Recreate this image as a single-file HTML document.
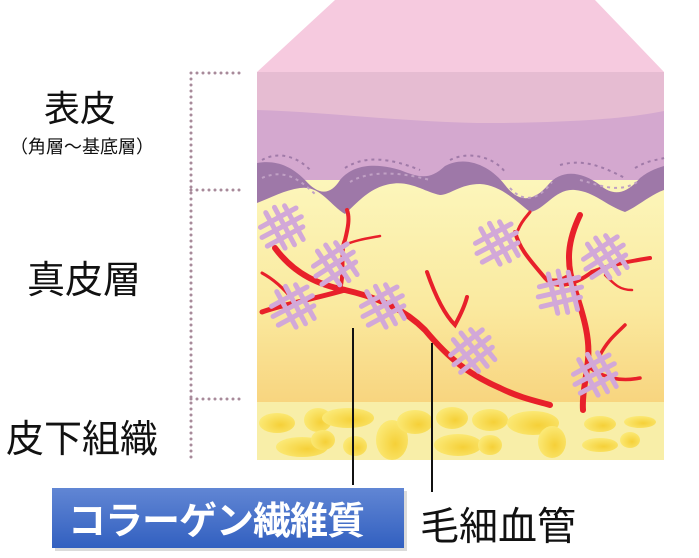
<!DOCTYPE html>
<html><head><meta charset="utf-8"><style>
body{margin:0;width:699px;height:558px;background:#fff;overflow:hidden;position:relative;font-family:"Liberation Sans","Noto Sans CJK JP",sans-serif}
.t{position:absolute;color:#111;white-space:nowrap}
</style></head><body>
<svg width="699" height="558" style="position:absolute;left:0;top:0">
<defs>
<linearGradient id="derm" x1="0" y1="0" x2="0" y2="1"><stop offset="0" stop-color="#fcf6bb"/><stop offset="0.55" stop-color="#faeaa0"/><stop offset="1" stop-color="#f8d47e"/></linearGradient>
<linearGradient id="blue" x1="0" y1="0" x2="0" y2="1"><stop offset="0" stop-color="#6186d4"/><stop offset="1" stop-color="#3260c0"/></linearGradient>
<radialGradient id="fat" cx="0.6" cy="0.6" r="0.6"><stop offset="0" stop-color="#f5d038"/><stop offset="1" stop-color="#fbe874"/></radialGradient>
<g id="cl" stroke="#d2a8d8" stroke-width="5" stroke-linecap="round" fill="none">
<path d="M-20,-8 L20,-14 M-22,2 L22,-4 M-20,12 L20,6"/>
<path d="M-10,-20 L-4,20 M0,-22 L6,20 M10,-20 L16,18"/>
</g>
</defs>
<polygon points="335,0 595,0 664,72 257,72" fill="#f6cadf"/>
<rect x="257" y="72" width="407" height="60" fill="#e6bcd2"/>
<path d="M257,110 C330,112 420,124 500,123 C580,122 630,118 664,111 L664,190 L257,190Z" fill="#d4a8cf"/>
<rect x="257" y="180" width="407" height="225" fill="url(#derm)"/>
<path d="M257,163 C275,160 290,165 305,180 C318,195 330,196 340,180 C355,162 380,164 400,170 C420,178 430,180 445,166 C465,155 490,165 505,185 C520,205 535,200 548,185 C560,170 580,170 600,185 C615,198 628,192 640,178 C650,170 658,168 664,166 L664,190 C650,195 640,205 625,212 C605,205 595,192 575,190 C555,188 545,210 530,212 C515,200 500,185 480,184 C460,184 450,195 440,195 C425,192 410,180 390,184 C370,188 360,200 345,214 C330,205 320,185 300,188 C285,190 270,198 257,203Z" fill="#9e78a8"/>
<path d="M262,178 C285,168 300,180 315,194 M350,182 C370,170 400,172 430,180 M510,188 C525,205 540,198 552,182 M580,180 C600,185 620,195 640,180" stroke="#c0a0c4" stroke-width="2" stroke-dasharray="3 4" fill="none"/>
<path d="M262,160 C280,150 300,158 312,172 M345,168 C365,155 390,158 420,170 M450,160 C470,150 495,158 505,172 M560,165 C585,158 605,168 625,178 M635,168 C648,160 658,160 664,158" stroke="#a07aa8" stroke-width="2" stroke-dasharray="3 4" fill="none"/>
<rect x="257" y="402" width="407" height="58" fill="#f8eea8"/>
<g fill="url(#fat)">
<ellipse cx="277" cy="423" rx="18" ry="10"/><ellipse cx="302" cy="447" rx="26" ry="10"/><ellipse cx="318" cy="420" rx="14" ry="12"/>
<ellipse cx="348" cy="418" rx="26" ry="10"/><ellipse cx="323" cy="440" rx="12" ry="10"/><ellipse cx="392" cy="440" rx="16" ry="20"/>
<ellipse cx="355" cy="446" rx="12" ry="10"/><ellipse cx="415" cy="422" rx="18" ry="12"/><ellipse cx="458" cy="445" rx="24" ry="11"/>
<ellipse cx="452" cy="418" rx="16" ry="11"/><ellipse cx="490" cy="420" rx="18" ry="11"/><ellipse cx="490" cy="445" rx="12" ry="10"/>
<ellipse cx="533" cy="423" rx="26" ry="12"/><ellipse cx="552" cy="442" rx="14" ry="16"/><ellipse cx="600" cy="424" rx="16" ry="8"/>
<ellipse cx="640" cy="422" rx="16" ry="6"/><ellipse cx="600" cy="445" rx="18" ry="7"/><ellipse cx="630" cy="440" rx="10" ry="8"/>
</g>
<g stroke="#e8202a" fill="none" stroke-linecap="round">
<path d="M275,248 C295,275 320,285 345,290 C380,298 405,310 425,330 C450,360 470,375 500,388 C520,398 540,402 550,405" stroke-width="6"/>
<path d="M262,312 C280,305 310,300 345,290" stroke-width="5"/>
<path d="M262,273 C275,280 285,290 293,300" stroke-width="3"/>
<path d="M340,290 C345,270 340,250 345,240 C348,228 350,218 347,210" stroke-width="4"/>
<path d="M345,245 C355,240 370,238 380,236" stroke-width="2.5"/>
<path d="M427,272 C435,295 445,315 455,325 C462,312 465,305 467,297" stroke-width="4"/>
<path d="M515,232 C520,250 530,260 545,278 C555,290 575,285 592,272 M545,278 C555,283 562,280 570,275" stroke-width="4"/>
<path d="M518,230 C522,220 528,215 530,212" stroke-width="3"/>
<path d="M580,215 C568,240 565,262 575,290 C585,320 590,340 588,360 C586,380 582,395 583,410" stroke-width="6"/>
<path d="M592,272 C610,265 625,262 650,258" stroke-width="4"/>
<path d="M605,275 C615,285 620,290 632,290" stroke-width="2.5"/>
<path d="M590,368 C605,378 620,382 640,378 M600,355 C608,340 615,335 625,325" stroke-width="3.5"/>
</g>
<use href="#cl" transform="translate(282,228) rotate(-20)"/>
<use href="#cl" transform="translate(335,265) rotate(-25)"/>
<use href="#cl" transform="translate(293,307) rotate(-20)"/>
<use href="#cl" transform="translate(383,307) rotate(-20)"/>
<use href="#cl" transform="translate(472,352) rotate(-30)"/>
<use href="#cl" transform="translate(497,244) rotate(-20)"/>
<use href="#cl" transform="translate(560,293) rotate(-5)"/>
<use href="#cl" transform="translate(605,258) rotate(-25)"/>
<use href="#cl" transform="translate(595,375) rotate(-20)"/>
<g stroke="#a88a9a" stroke-width="3" stroke-dasharray="0 6" stroke-linecap="round" fill="none">
<path d="M191,73 V462 M191,73 H240 M191,190 H240 M191,399 H240"/>
</g>
<path d="M353,328 V485 M432,343 V492" stroke="#111" stroke-width="2"/>
<rect x="55" y="491" width="352" height="60" fill="#999" opacity="0.35"/>
<rect x="52" y="488" width="352" height="60" fill="url(#blue)"/>
</svg>
<div class="t" style="left:44px;top:80px;font-size:36px">表皮</div>
<div class="t" style="left:10px;top:133px;font-size:18px">（角層～基底層）</div>
<div class="t" style="left:27px;top:249px;font-size:38px">真皮層</div>
<div class="t" style="left:6px;top:408px;font-size:38px">皮下組織</div>
<div class="t" style="left:68px;top:490px;font-size:38px;color:#fff;font-weight:bold;letter-spacing:-1px">コラーゲン繊維質</div>
<div class="t" style="left:420px;top:496px;font-size:39px">毛細血管</div>
</body></html>
